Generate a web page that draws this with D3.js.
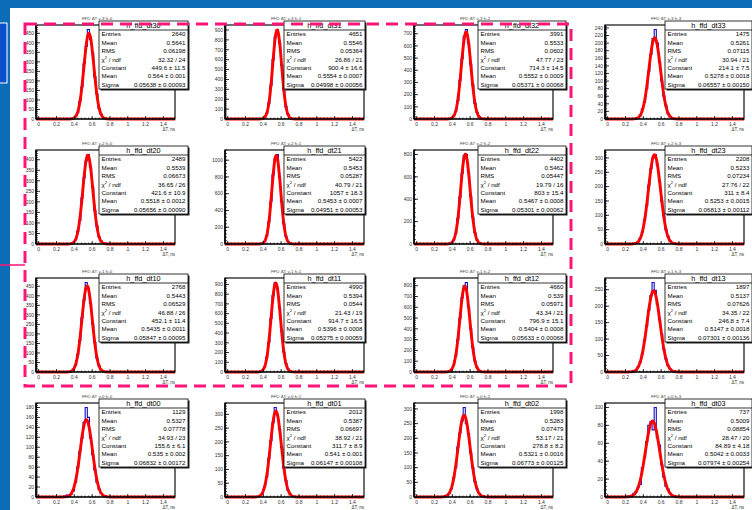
<!DOCTYPE html>
<meta charset='utf-8'>
<style>
body { margin: 0; background: #0c6cb8; }
svg { display: block; }
text { font-family: 'Liberation Sans', Arial, sans-serif; }
</style>
<svg id='chart' width='752' height='510'></svg>
<script src="https://cdn.jsdelivr.net/npm/d3@7/dist/d3.min.js"></script>
<script>

// pads, row-major: v-3 .. v-0 (top to bottom), h-0 .. h-3 (left to right)
const padNames = ['h_ffd_dt30','h_ffd_dt31','h_ffd_dt32','h_ffd_dt33',
                  'h_ffd_dt20','h_ffd_dt21','h_ffd_dt22','h_ffd_dt23',
                  'h_ffd_dt10','h_ffd_dt11','h_ffd_dt12','h_ffd_dt13',
                  'h_ffd_dt00','h_ffd_dt01','h_ffd_dt02','h_ffd_dt03'];
const padTitles = ['FFD ΔT v-3 h-0','FFD ΔT v-3 h-1','FFD ΔT v-3 h-2','FFD ΔT v-3 h-3',
                   'FFD ΔT v-2 h-0','FFD ΔT v-2 h-1','FFD ΔT v-2 h-2','FFD ΔT v-2 h-3',
                   'FFD ΔT v-1 h-0','FFD ΔT v-1 h-1','FFD ΔT v-1 h-2','FFD ΔT v-1 h-3',
                   'FFD ΔT v-0 h-0','FFD ΔT v-0 h-1','FFD ΔT v-0 h-2','FFD ΔT v-0 h-3'];
const entries = ['2640','4651','3991','1475','2489','5422','4402','2208',
                 '2768','4990','4660','1897','1129','2012','1998','737'];
const histMeans = ['0.5641','0.5546','0.5533','0.5261','0.5539','0.5453','0.5462','0.5233',
                   '0.5443','0.5394','0.539','0.5137','0.5327','0.5387','0.5283','0.5009'];
const histRms = ['0.06198','0.05364','0.0602','0.07115','0.06673','0.05287','0.05447','0.07234',
                 '0.06529','0.0544','0.05971','0.07626','0.07778','0.06697','0.07479','0.08854'];
const chi2Ndf = ['32.32 / 24','26.86 / 21','47.77 / 23','30.94 / 21','36.65 / 26','40.79 / 21','19.79 / 16','27.76 / 22',
                 '46.88 / 26','21.43 / 19','43.34 / 21','34.35 / 22','34.93 / 23','38.92 / 21','53.17 / 21','28.47 / 20'];
const fitConst = ['449.6 ± 11.5','900.4 ± 16.6','714.3 ± 14.5','214.1 ± 7.5','421.6 ± 10.9','1057 ± 18.3','803 ± 15.4','311 ± 8.4',
                  '452.1 ± 11.4','914.7 ± 16.5','796.9 ± 15.1','246.8 ± 7.4','155.6 ± 6.1','311.7 ± 8.9','278.8 ± 8.2','84.89 ± 4.18'];
const fitMean = ['0.564 ± 0.001','0.5554 ± 0.0007','0.5552 ± 0.0009','0.5278 ± 0.0018','0.5518 ± 0.0012','0.5453 ± 0.0007','0.5467 ± 0.0008','0.5253 ± 0.0015',
                 '0.5435 ± 0.0011','0.5396 ± 0.0008','0.5404 ± 0.0008','0.5147 ± 0.0018','0.535 ± 0.002','0.541 ± 0.001','0.5321 ± 0.0016','0.5042 ± 0.0033'];
const fitSigma = ['0.05638 ± 0.00093','0.04998 ± 0.00056','0.05371 ± 0.00068','0.06557 ± 0.00150',
                  '0.05656 ± 0.00090','0.04951 ± 0.00053','0.05301 ± 0.00062','0.06813 ± 0.00112',
                  '0.05847 ± 0.00095','0.05275 ± 0.00059','0.05633 ± 0.00068','0.07301 ± 0.00136',
                  '0.06832 ± 0.00172','0.06147 ± 0.00108','0.06773 ± 0.00125','0.07974 ± 0.00254'];
const yStep = [50,100,100,20, 50,200,200,50, 50,100,100,50, 20,50,50,20];

// bin contents, bins of 0.024 ns starting at 0.21 ns
const bins_dt30 = [0,0,1,0,1,2,1,5,14,33,92,168,290,381,470,418,345,221,131,55,25,9,4,2,1,0,1,0];
const bins_dt31 = [0,0,0,0,0,1,1,5,18,55,160,340,600,830,905,770,545,290,125,46,12,4,1,1,0,0,0,0];
const bins_dt32 = [0,0,1,0,2,1,3,7,25,62,150,318,495,680,735,620,450,280,128,55,18,6,2,1,1,0,0,0];
const bins_dt33 = [0,1,0,1,2,4,9,26,44,80,126,170,212,236,200,150,100,60,36,14,7,2,1,0,0,0,0,0];
const bins_dt20 = [0,0,1,0,1,1,2,6,20,60,112,218,315,395,425,362,270,158,85,33,14,5,2,1,0,1,0,0];
const bins_dt21 = [0,0,0,0,1,1,2,9,33,98,262,510,825,1025,1068,795,505,240,92,30,8,3,1,0,0,0,0,0];
const bins_dt22 = [0,0,0,0,1,1,2,10,36,96,228,420,630,790,800,640,425,238,100,36,12,3,1,0,0,0,0,0];
const bins_dt23 = [0,1,0,1,3,8,22,42,85,134,205,262,300,312,275,218,150,98,50,27,10,5,1,1,0,0,0,0];
const bins_dt10 = [0,0,1,1,1,2,5,15,36,92,165,285,378,470,440,360,252,155,72,33,12,4,2,1,0,0,0,0];
const bins_dt11 = [0,0,0,0,1,1,4,17,52,150,305,550,785,920,860,655,420,205,88,30,8,2,1,0,0,0,0,0];
const bins_dt12 = [0,0,0,1,1,3,8,20,62,148,300,498,690,800,830,600,400,228,100,42,12,4,1,1,0,0,0,0];
const bins_dt13 = [0,0,1,2,5,16,30,55,98,140,188,232,272,248,205,158,115,70,40,19,9,3,1,1,0,0,0,0];
const bins_dt00 = [0,1,0,2,4,4,6,12,30,60,92,118,150,180,160,118,85,55,30,16,7,3,1,1,0,1,0,0];
const bins_dt01 = [0,0,1,0,1,2,6,14,38,72,140,205,270,325,298,245,180,105,60,24,11,3,1,0,0,0,1,0];
const bins_dt02 = [0,1,1,1,3,6,12,28,65,100,170,218,258,305,250,215,150,100,52,28,12,5,2,1,0,0,0,0];
const bins_dt03 = [1,0,2,4,6,11,14,33,44,62,80,84,75,100,66,58,36,22,12,9,4,2,1,0,0,0,0,0];

const allBins = [bins_dt30, bins_dt31, bins_dt32, bins_dt33,
                 bins_dt20, bins_dt21, bins_dt22, bins_dt23,
                 bins_dt10, bins_dt11, bins_dt12, bins_dt13,
                 bins_dt00, bins_dt01, bins_dt02, bins_dt03];

const xLo = -0.03, xHi = 1.53, binW = 0.024, firstEdge = 0.21;

// layout of the pad frames
const colLeft = [36, 225, 414, 605];
const rowTop = [25, 150, 278, 403];
const frameW = 139, frameH = 94;
const statOff = [63, 59, 64, 60];
const statW = [89, 81, 88, 87];

const svg = d3.select('#chart');

// slide background
svg.append('rect').attr('x', 10).attr('y', 8).attr('width', 742).attr('height', 502).attr('fill', '#fff');
svg.append('rect').attr('x', -2).attr('y', 23).attr('width', 9).attr('height', 60)
  .attr('fill', '#0a4fcc').attr('stroke', '#fff').attr('stroke-width', 1);

const x = d3.scaleLinear().domain([xLo, xHi]).range([0, frameW]);

allBins.forEach(function(bins, k) {
  const r = Math.floor(k / 4), c = k % 4;
  const g = svg.append('g').attr('transform', 'translate(' + colLeft[c] + ',' + rowTop[r] + ')');

  const ymax = d3.max(bins) * 1.05;
  const y = d3.scaleLinear().domain([0, ymax]).range([frameH, 0]);

  g.append('clipPath').attr('id', 'clip' + k)
    .append('rect').attr('x', 0).attr('y', -2).attr('width', frameW).attr('height', frameH + 4);

  // histogram outline
  const pts = [[xLo, 0], [firstEdge, 0]];
  bins.forEach(function(v, i) {
    pts.push([firstEdge + i * binW, v]);
    pts.push([firstEdge + (i + 1) * binW, v]);
  });
  pts.push([firstEdge + bins.length * binW, 0], [xHi, 0]);

  const line = d3.line().x(d => x(d[0])).y(d => y(d[1]));
  g.append('path').attr('d', line(pts))
    .attr('clip-path', 'url(#clip' + k + ')')
    .attr('fill', 'none').attr('stroke', '#1010c8').attr('stroke-width', 1.1);

  // gaussian fit
  const C = parseFloat(fitConst[k]), m = parseFloat(fitMean[k]), s = parseFloat(fitSigma[k]);
  const fitPts = d3.range(0, 401).map(i => {
    const t = xLo + (xHi - xLo) * i / 400;
    return [t, C * Math.exp(-0.5 * ((t - m) / s) ** 2)];
  });
  g.append('path').attr('d', line(fitPts))
    .attr('clip-path', 'url(#clip' + k + ')')
    .attr('fill', 'none').attr('stroke', '#ff0000').attr('stroke-width', 2.9)
    .attr('stroke-linejoin', 'round');

  // frame
  g.append('rect').attr('width', frameW).attr('height', frameH)
    .attr('fill', 'none').attr('stroke', '#222').attr('stroke-width', 1.3);

  // y ticks
  const step = yStep[k];
  const yMajor = d3.range(0, ymax + 1e-9, step);
  const yMinor = d3.range(0, ymax + 1e-9, step / 5);
  g.selectAll('.ymin').data(yMinor).enter().append('line')
    .attr('x1', 0).attr('x2', 2).attr('y1', d => y(d)).attr('y2', d => y(d))
    .attr('stroke', '#000').attr('stroke-width', 0.7);
  g.selectAll('.ymaj').data(yMajor).enter().append('line')
    .attr('x1', 0).attr('x2', 4).attr('y1', d => y(d)).attr('y2', d => y(d))
    .attr('stroke', '#000').attr('stroke-width', 0.8);
  g.selectAll('.ylab').data(yMajor).enter().append('text')
    .attr('x', -2).attr('y', d => y(d)).attr('dy', '0.35em')
    .attr('text-anchor', 'end').attr('font-size', 5).attr('fill', '#333')
    .text(d => d);

  // x ticks
  const xMajor = d3.range(0, 1.41, 0.2);
  const xMinor = d3.range(0, 1.53, 0.04);
  g.selectAll('.xmin').data(xMinor).enter().append('line')
    .attr('x1', d => x(d)).attr('x2', d => x(d)).attr('y1', frameH).attr('y2', frameH - 1.5)
    .attr('stroke', '#000').attr('stroke-width', 0.7);
  g.selectAll('.xmaj').data(xMajor).enter().append('line')
    .attr('x1', d => x(d)).attr('x2', d => x(d)).attr('y1', frameH).attr('y2', frameH - 3)
    .attr('stroke', '#000').attr('stroke-width', 0.8);
  g.selectAll('.xlab').data(xMajor).enter().append('text')
    .attr('x', d => x(d)).attr('y', frameH + 6.5)
    .attr('text-anchor', 'middle').attr('font-size', 5).attr('fill', '#333')
    .text(d => String(+d.toFixed(1)));

  // axis lines
  g.append('line').attr('x1', 0).attr('x2', 0).attr('y1', 0).attr('y2', frameH)
    .attr('stroke', '#000').attr('stroke-width', 1.5);
  g.append('line').attr('x1', 0).attr('x2', frameW).attr('y1', frameH).attr('y2', frameH)
    .attr('stroke', '#000').attr('stroke-width', 1.2);

  g.append('text').attr('x', frameW).attr('y', frameH + 12)
    .attr('text-anchor', 'end').attr('font-size', 4.5).attr('fill', '#333')
    .text('ΔT, ns');

  // pad title
  g.append('text').attr('x', 61).attr('y', -5)
    .attr('text-anchor', 'middle').attr('font-size', 4.4).attr('fill', '#444')
    .text(padTitles[k]);

  // stats box
  const bx = statOff[c], by = -4, bw = statW[c], bh = 68;
  const sb = g.append('g').attr('transform', 'translate(' + bx + ',' + by + ')');
  sb.append('rect').attr('x', 1.5).attr('y', 1.5).attr('width', bw).attr('height', bh).attr('fill', '#222');
  sb.append('rect').attr('width', bw).attr('height', bh)
    .attr('fill', '#fff').attr('stroke', '#000').attr('stroke-width', 0.8);
  sb.append('line').attr('x1', 0).attr('x2', bw).attr('y1', 9).attr('y2', 9)
    .attr('stroke', '#000').attr('stroke-width', 0.8);
  sb.append('text').attr('x', bw / 2).attr('y', 7.2)
    .attr('text-anchor', 'middle').attr('font-size', 7.3).attr('fill', '#000')
    .text(padNames[k]);

  const labels = ['Entries', 'Mean', 'RMS', 'chi', 'Constant', 'Mean', 'Sigma'];
  const values = [entries[k], histMeans[k], histRms[k], chi2Ndf[k], fitConst[k], fitMean[k], fitSigma[k]];
  labels.forEach(function(lab, j) {
    const ty = 9 + 8.4 * (j + 0.5) + 2.2;
    const t = sb.append('text').attr('x', 2.5).attr('y', ty)
      .attr('font-size', 6.2).attr('fill', '#000');
    if (lab === 'chi') {
      t.append('tspan').text('χ');
      t.append('tspan').attr('font-size', 4).attr('dy', -2.5).text('2');
      t.append('tspan').attr('dy', 2.5).text(' / ndf');
    } else {
      t.text(lab);
    }
    sb.append('text').attr('x', bw - 2.5).attr('y', ty)
      .attr('text-anchor', 'end').attr('font-size', 6.2).attr('fill', '#000')
      .text(values[j]);
  });
});

// highlight around the top three rows
svg.append('rect').attr('x', 25).attr('y', 24).attr('width', 546).attr('height', 362)
  .attr('fill', 'none').attr('stroke', '#ff1478').attr('stroke-width', 3)
  .attr('stroke-dasharray', '12,7');
svg.append('line').attr('x1', 0).attr('x2', 25).attr('y1', 265).attr('y2', 265)
  .attr('stroke', '#ff1478').attr('stroke-width', 1.5);

</script>
